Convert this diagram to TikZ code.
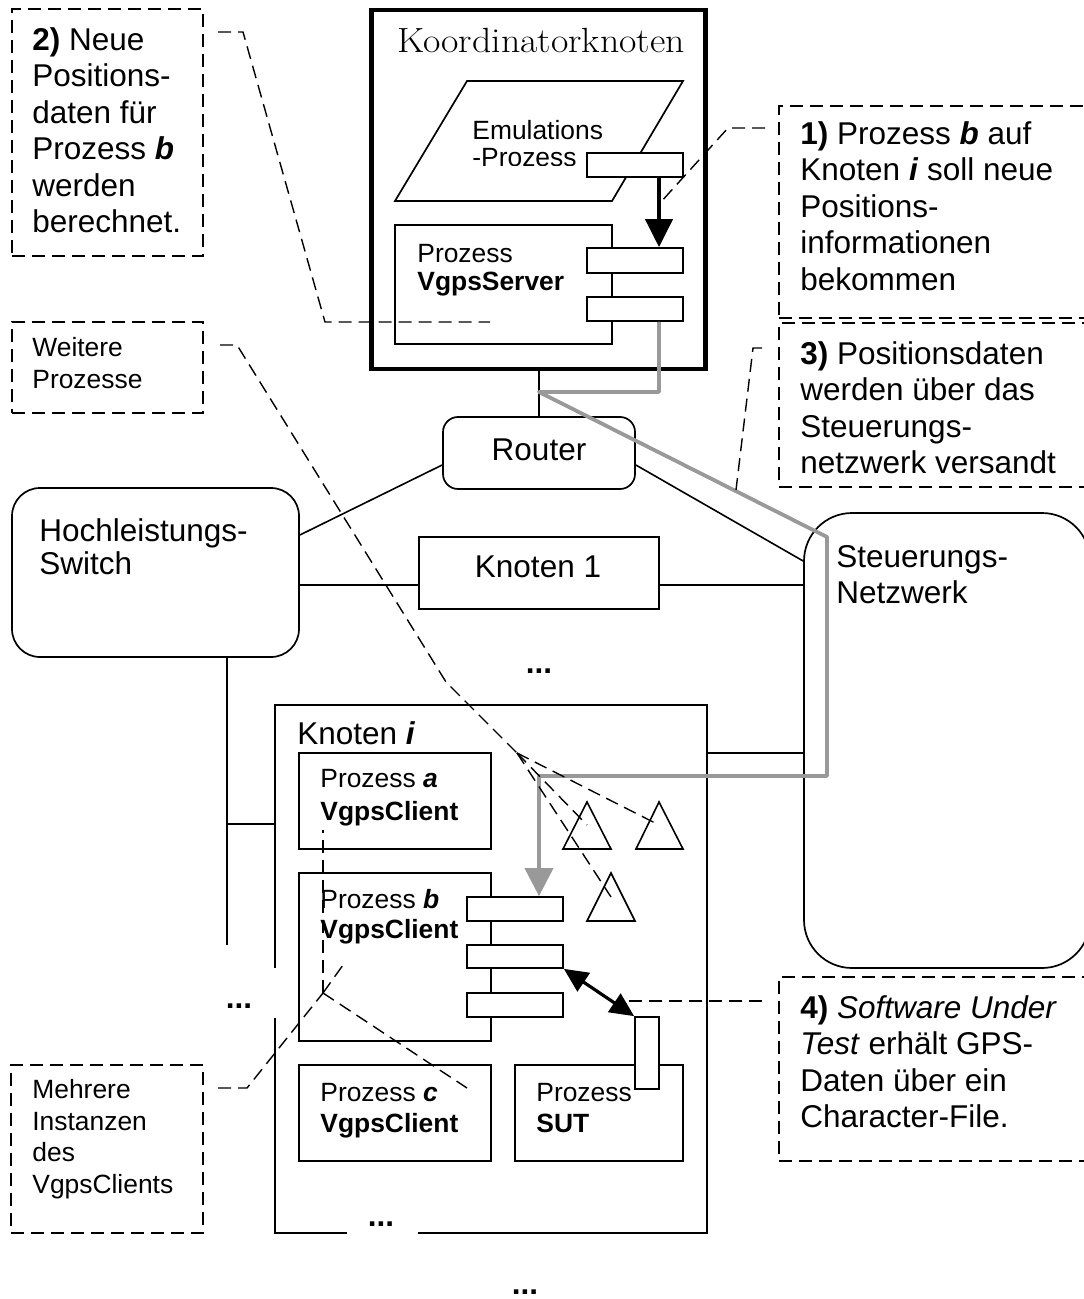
\documentclass[tikz,border=0pt]{standalone}
\usepackage{fontspec}
\newfontfamily\arial{Liberation Sans}
\usetikzlibrary{arrows.meta,fit,calc}
\definecolor{flowgray}{RGB}{153,153,153}
\begin{document}
\begin{tikzpicture}[x=0.5pt,y=-0.5pt,
  box/.style={draw, line width=0.85pt, fill=white, inner sep=0pt},
  thickbox/.style={box, line width=2.2pt},
  note/.style={draw, line width=0.7pt, dash pattern=on 6.5pt off 3.5pt, inner sep=0pt},
  callout/.style={line width=0.7pt, dash pattern=on 6.5pt off 3.5pt},
  link/.style={line width=0.8pt},
  flow/.style={line width=1.9pt, draw=flowgray, line join=round},
  txt/.style={inner sep=0pt, anchor=north west, align=left},
  lfont/.style={font=\arial\fontsize{15.75pt}{#1}\selectfont},
  sfont/.style={font=\arial\fontsize{13.2pt}{#1}\selectfont},
  dotsnode/.style={inner sep=0pt, anchor=base, font=\arial\bfseries\fontsize{15.75pt}{18pt}\selectfont},
]
\useasboundingbox (0,0) rectangle (1083,1299);

% ---------- dashed note boxes ----------
\node[note, fit={(12,9)(203,256)}] (n2) {};
\node[note, fit={(12,322)(203,413)}] (nw) {};
\node[note, fit={(11,1065)(203,1233)}] (nm) {};
\node[note, fit={(779,106)(1095,318)}] (n1) {};
\node[note, fit={(779,323)(1095,487)}] (n3) {};
\node[note, fit={(779,977)(1095,1161)}] (n4) {};

% ---------- coordinator node ----------
\node[thickbox, fit={(371.5,10)(705.5,369)}] (koord) {};
\draw[line width=0.85pt, fill=white] (467,81) -- (683,81) -- (612,201) -- (395,201) -- cycle;
\begin{scope}
  \clip (460,100) rectangle (700,165.5);
  \node[txt, sfont=13.5pt] (temu) at (472,120.1) {\strut Emulations\\-Prozess};
\end{scope}
\node[box, fit={(587,153)(683,177)}] (emuport) {};
\node[box, fit={(395,225)(612,344)}] (srv) {};
\node[box, fit={(587,248)(683,273)}] (srvport1) {};
\node[box, fit={(587,297)(683,321)}] (srvport2) {};

% ---------- network ----------
\node[box, rounded corners=7.5pt, fit={(443,417)(635,489)}] (router) {};
\node[box, rounded corners=14pt, fit={(12,488)(299,657)}] (switch) {};
\node[box, fit={(419,537)(659,609)}] (knoten1) {};
\node[box, rounded corners=24pt, fit={(804,513)(1090,968)}] (steuer) {};
\node[box, fit={(275,705)(707,1233)}] (knoteni) {};
\node[box, fit={(299,753)(491,849)}] (pa) {};
\node[box, fit={(299,873)(491,1041)}] (pb) {};
\node[box, fit={(299,1065)(491,1161)}] (pc) {};
\node[box, fit={(515,1065)(683,1161)}] (sut) {};
\node[box, fit={(467,897)(563,921)}] (pbport1) {};
\node[box, fit={(467,945)(563,968)}] (pbport2) {};
\node[box, fit={(467,993)(563,1017)}] (pbport3) {};
\node[box, fit={(635,1017)(659,1089)}] (sutport) {};

\draw[link] (router.north) -- (router.north |- koord.south);
\draw[link] ([yshift=-6pt]router.west) -- (switch.east |- 0,535);
\draw[link] ([yshift=-6pt]router.east) -- (steuer.west |- 0,561);
\draw[link] (switch.east |- 0,585) -- (knoten1.west |- 0,585);
\draw[link] (knoten1.east |- 0,585) -- (steuer.west |- 0,585);
\draw[link] (knoteni.east |- 0,753) -- (steuer.west |- 0,753);
\coordinate (busend) at (227,945);
\draw[link] (busend |- switch.south) -- (busend);
\draw[link] (227,824) -- (knoteni.west |- 0,824);

% gaps behind the ellipses
\fill[white] (212,968) rectangle (276.8,1018);
\fill[white] (347,1205) rectangle (418,1236);
\node[dotsnode] (dotsa) at (539,673) {...};
\node[dotsnode] (dotsb) at (239,1008) {...};
\node[dotsnode] (dotsc) at (381,1226) {...};
\node[dotsnode] (dotsd) at (525,1294) {...};

% ---------- data flow ----------
\coordinate (g1) at (539,392);
\coordinate (g2) at (827,537);
\coordinate (g3) at (827,776);
\draw[flow, -{Triangle[width=14pt,length=14pt]}]
  ([xshift=12pt]srvport2.south) |- (g1) -- (g2) -- (g3) -| ([xshift=12pt]pbport1.north);
\draw[line width=2.1pt, -{Triangle[width=13.5pt,length=14pt]}]
  ([xshift=12pt]emuport.south) -- ([xshift=12pt]srvport1.north);
\draw[line width=1.6pt, {Triangle[width=11pt,length=12pt]}-{Triangle[width=11pt,length=12pt]}]
  (pbport2.south east) -- (sutport.north west);

% ---------- further processes ----------
\draw[link] (563,849) -- (587,802) -- (611,849) -- cycle;
\draw[link] (636,849) -- (659,802) -- (683,849) -- cycle;
\draw[link] (587,921) -- (611,873) -- (635,921) -- cycle;

% ---------- callout lines ----------
\coordinate (c1s) at (765,128);
\coordinate (c2s) at (218,32);
\coordinate (c3s) at (762,348);
\coordinate (c4s) at (762,1001);
\coordinate (cws) at (220,345);
\coordinate (cms) at (218,1088);
\coordinate (cwhub) at (517,753);
\coordinate (cmhub) at (323,993);
\draw[callout] (c1s) -- (728,128) -- (660,203);
\draw[callout] (c2s) -- (243,32) -- (325,322) -- (490,322);
\draw[callout] (c3s) -- (753,348) -- (736,490);
\draw[callout] (c4s) -- (628,1001);
\draw[callout] (cws) -- (237,345) -- (446,682) -- (cwhub);
\draw[callout] (cwhub) -- (659,825);
\draw[callout] (cwhub) -- (587,825);
\draw[callout] (cwhub) -- (611,897);
\draw[callout] (cms) -- (247,1088) -- (cmhub);
\draw[callout] (cmhub) -- (323,830);
\draw[callout] (cmhub) -- (343,965);
\draw[callout] (cmhub) -- (467,1088);

% ---------- texts ----------
\node[inner sep=0pt, anchor=base, font=\rmfamily\fontsize{17.5pt}{20pt}\selectfont] (tkoord) at (541,53) {\scalebox{1.08}[1]{Koordinatorknoten}};
\node[txt, sfont=14pt] (tsrv) at (417,242.4) {\strut Prozess\\\textbf{VgpsServer}};
\node[inner sep=0pt, anchor=base, lfont=18pt] (trouter) at (539,460) {Router};
\node[inner sep=0pt, anchor=base, lfont=18pt] (tk1) at (538,577) {Knoten 1};
\node[txt, lfont=16.5pt] (tswitch) at (39,517.9) {\strut Hochleistungs-\\Switch};
\node[txt, lfont=18pt] (tsteuer) at (836,541.8) {\strut Steuerungs-\\Netzwerk};
\node[inner sep=0pt, anchor=base west, lfont=18pt] (tki) at (297,744) {Knoten \textbf{\textit{i}}};
\node[txt, sfont=16.5pt] (tpa) at (320,763.9) {\strut Prozess \textbf{\textit{a}}\\\textbf{VgpsClient}};
\node[txt, sfont=15pt] (tpb) at (320,887) {\strut Prozess \textbf{\textit{b}}\\\textbf{VgpsClient}};
\node[txt, sfont=15.5pt] (tpc) at (320,1079.3) {\strut Prozess \textbf{\textit{c}}\\\textbf{VgpsClient}};
\node[txt, sfont=15.5pt] (tsut) at (536,1079.3) {\strut Prozess\\\textbf{SUT}};

\node[txt, lfont=18.25pt] (t2) at (32,24.45) {\strut\textbf{2)} Neue\\Positions-\\daten für\\Prozess \textbf{\textit{b}}\\werden\\berechnet.};
\node[txt, sfont=16pt] (tw) at (32,333.6) {\strut Weitere\\Prozesse};
\node[txt, sfont=15.8pt] (tm) at (32,1075.9) {\strut Mehrere\\Instanzen\\des\\VgpsClients};
\node[txt, lfont=18.25pt] (t1) at (800,118.45) {\strut\textbf{1)} Prozess \textbf{\textit{b}} auf\\Knoten \textbf{\textit{i}} soll neue\\Positions-\\informationen\\bekommen};
\node[txt, lfont=18.25pt] (t3) at (800,338.45) {\strut\textbf{3)} Positionsdaten\\werden über das\\Steuerungs-\\netzwerk versandt};
\node[txt, lfont=18.25pt] (t4) at (800,992.45) {\strut\textbf{4)} \textit{Software Under}\\\textit{Test} erhält GPS-\\Daten über ein\\Character-File.};
\end{tikzpicture}
\end{document}
